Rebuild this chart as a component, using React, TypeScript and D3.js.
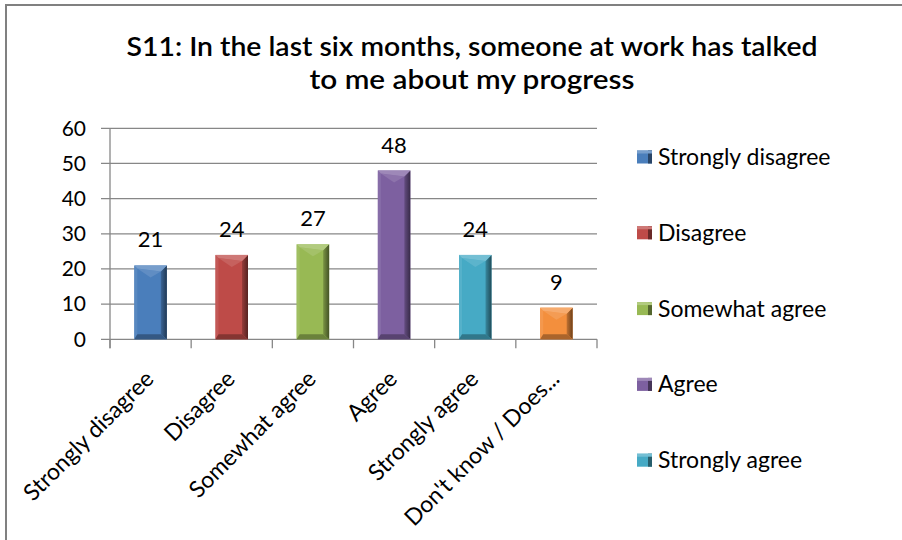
import React from "react";
import * as d3 from "d3";

const categories = [
  "Strongly disagree",
  "Disagree",
  "Somewhat agree",
  "Agree",
  "Strongly agree",
  "Don't know / Does...",
];
const values = [21, 24, 27, 48, 24, 9];
const colors = ["#4a7ebb", "#be4b48", "#98b954", "#7d60a0", "#46aac5", "#f38f3d"];
const legendItems = categories.slice(0, 5);
const yTicks = [0, 10, 20, 30, 40, 50, 60];
const titleLines = [
  "S11: In the last six months, someone at work has talked",
  "to me about my progress",
];
const titleWidths = [691, 325];

const W = 902;
const H = 540;
const FONT = "Lato, 'Open Sans', 'DejaVu Sans', sans-serif";
const GRID = "#878787";

export default function App() {
  const x = d3.scaleBand<string>().domain(categories).range([110, 597]).padding(0);
  const y = d3.scaleLinear().domain([0, 60]).range([339.3, 128.3]);
  const bw = x.bandwidth() * 0.4;
  const y0 = y(0);

  const bars = categories.map((c, i) => {
    const cx = (x(c) as number) + x.bandwidth() / 2;
    const x0 = cx - bw / 2;
    const x1 = cx + bw / 2;
    const top = y(values[i]);
    const bot = y0;
    const base = d3.color(colors[i])!;
    const light = d3.interpolateRgb(colors[i], "#ffffff")(0.25);
    const lighter = d3.interpolateRgb(colors[i], "#ffffff")(0.12);
    const leftC = d3.interpolateRgb(colors[i], "#ffffff")(0.08);
    const dark = d3.interpolateRgb(colors[i], "#000000")(0.55);
    const botC = d3.interpolateRgb(colors[i], "#000000")(0.3);
    const b = 5;
    const gid = `rg${i}`;
    return (
      <g key={c}>
        <defs>
          <linearGradient id={gid} x1="0" x2="1" y1="0" y2="0">
            <stop offset="0" stopColor={d3.interpolateRgb(colors[i], "#000000")(0.2)} />
            <stop offset="1" stopColor={dark} />
          </linearGradient>
        </defs>
        <rect x={x0} y={top} width={bw} height={bot - top} fill={base.toString()} />
        <polygon
          points={`${x0},${top} ${x0 + 3},${top + 3} ${x0 + 3},${bot - b} ${x0},${bot}`}
          fill={leftC}
        />
        <polygon
          points={`${x1},${top} ${x1 - 6},${top + 6} ${x1 - 6},${bot - b} ${x1},${bot}`}
          fill={`url(#${gid})`}
        />
        <polygon
          points={`${x0},${bot} ${x0 + 3},${bot - b} ${x1 - 6},${bot - b} ${x1},${bot}`}
          fill={botC}
        />
        <polygon
          points={`${x0 + 3},${top + 3} ${x1 - 6},${top + 6} ${cx},${top + 12}`}
          fill={lighter}
        />
        <polygon
          points={`${x0},${top} ${x1},${top} ${x1 - 6},${top + 6} ${x0 + 3},${top + 3}`}
          fill={light}
        />
        <text
          x={cx}
          y={top - 18}
          textAnchor="middle"
          fontFamily={FONT}
          fontSize={22}
          fill="#000"
        >
          {values[i]}
        </text>
      </g>
    );
  });

  const edges = [...categories.map((c) => x(c) as number), 597];

  return (
    <svg
      width={W}
      height={H}
      style={{ position: "absolute", left: 0, top: 0, background: "#fff" }}
    >
      <rect x={0} y={0} width={W} height={H} fill="#fff" />
      <path d={`M6,${H} V5 H${W}`} fill="none" stroke="#808080" strokeWidth={2} />

      {titleLines.map((t, i) => (
        <text
          key={t}
          x={472}
          y={56 + i * 33}
          textAnchor="middle"
          fontFamily={FONT}
          fontWeight={600}
          fontSize={27}
          textLength={titleWidths[i]}
          lengthAdjust="spacingAndGlyphs"
          fill="#000"
        >
          {t}
        </text>
      ))}

      {yTicks.map((t) => (
        <g key={t}>
          <line x1={101} x2={597} y1={y(t)} y2={y(t)} stroke={GRID} strokeWidth={1.3} />
          <text
            x={86}
            y={y(t)}
            dy="0.35em"
            textAnchor="end"
            fontFamily={FONT}
            fontSize={21}
            fill="#000"
          >
            {t}
          </text>
        </g>
      ))}
      <line x1={110} x2={110} y1={y(60)} y2={y0 + 9} stroke={GRID} strokeWidth={1.3} />
      {edges.map((e, i) => (
        <line key={i} x1={e} x2={e} y1={y0} y2={y0 + 9} stroke={GRID} strokeWidth={1.3} />
      ))}

      {bars}

      {categories.map((c) => {
        const cx = (x(c) as number) + x.bandwidth() / 2;
        return (
          <text
            key={c}
            transform={`translate(${cx + 4.5},${y0 + 41}) rotate(-45)`}
            textAnchor="end"
            fontFamily={FONT}
            fontSize={23}
            fill="#000"
          >
            {c}
          </text>
        );
      })}

      {legendItems.map((c, i) => {
        const ly = 157 + i * 75.8;
        return (
          <g key={c}>
            <rect x={637} y={ly - 6.5} width={15} height={13} fill={colors[i]} />
            <rect
              x={648}
              y={ly - 6.5}
              width={4}
              height={13}
              fill={d3.interpolateRgb(colors[i], "#000")(0.45)}
            />
            <rect
              x={637}
              y={ly - 6.5}
              width={15}
              height={3}
              fill={d3.interpolateRgb(colors[i], "#fff")(0.25)}
            />
            <text
              x={658}
              y={ly}
              dy="0.35em"
              fontFamily={FONT}
              fontSize={23}
              fill="#000"
            >
              {c}
            </text>
          </g>
        );
      })}
    </svg>
  );
}
